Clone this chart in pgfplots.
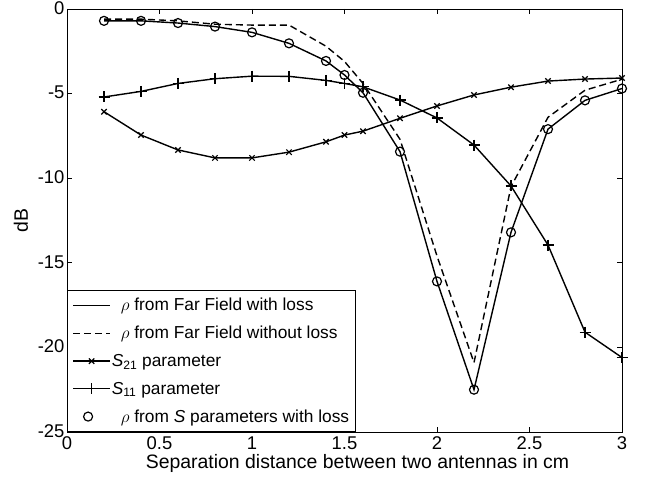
\documentclass[border=0pt]{standalone}
\usepackage{pgfplots}
\pgfplotsset{compat=1.18}
\usepackage{fontspec}
\setmainfont{Liberation Sans}
\newcommand{\legf}{\fontsize{17.4}{20}\selectfont}
\newcommand{\tickf}{\fontsize{18.5}{21}\selectfont}
\newcommand{\labf}{\fontsize{19.5}{22}\selectfont}
\pgfplotsset{
  longlegend/.style={legend image code/.code={\draw[mark repeat=2,mark phase=2,##1] plot coordinates {(0bp,0bp) (18.5bp,0bp) (37bp,0bp)};}},
  marklegend/.style={legend image code/.code={\draw[##1] plot coordinates {(15bp,0bp)};}},
}
\begin{document}
\begin{tikzpicture}
\begin{axis}[
  scale only axis, width=555bp, height=423bp,
  xmin=0, xmax=3, ymin=-25, ymax=0,
  xtick={0,0.5,1,1.5,2,2.5,3},
  ytick={-25,-20,-15,-10,-5,0},
  xticklabels={0,0.5,1,1.5,2,2.5,3},
  yticklabels={-25,-20,-15,-10,-5,0},
  tick align=inside,
  major tick length=5bp,
  tick style={black, line width=0.6bp},
  axis line style={black, line width=0.8bp},
  /pgf/number format/assume math mode=true,
  every tick label/.append style={font=\tickf},
  xticklabel style={font=\tickf, yshift=-1.5bp},
  yticklabel style={font=\tickf, xshift=1bp, yshift=1bp},
  xlabel={Separation distance between two antennas in cm},
  ylabel={dB},
  xlabel style={font=\labf, at={(axis description cs:0.5,-0.075)}, anchor=center, xshift=13bp},
  ylabel style={font=\labf, at={(axis description cs:-0.083,0.5)}, anchor=center},
  legend cell align=left,
  legend style={at={(0,0)}, anchor=south west, font=\legf,
    draw=black, line width=0.8bp, inner xsep=5bp, inner ysep=6bp, row sep=10bp,
    nodes={inner xsep=1bp}},
  longlegend,
  every axis plot/.append style={line width=1.4bp, black},
]
\addplot[solid, line width=1.4bp] coordinates {
(0.2,-0.7)(0.4,-0.7)(0.6,-0.83)(0.8,-1.04)(1.0,-1.38)(1.2,-2.03)(1.4,-3.07)(1.5,-3.9)(1.6,-4.95)(1.8,-8.43)(2.0,-16.1)(2.2,-22.5)(2.4,-13.2)(2.6,-7.1)(2.8,-5.4)(3.0,-4.7)};
\addlegendentry{\hspace{9bp}$\rho$ from Far Field with loss}
\addplot[dashed, dash pattern=on 7bp off 4bp, line width=1.4bp] coordinates {
(0.2,-0.6)(0.4,-0.6)(0.6,-0.7)(0.8,-0.9)(1.0,-0.95)(1.2,-0.95)(1.4,-2.2)(1.5,-3.1)(1.6,-4.4)(1.8,-7.7)(2.0,-14.6)(2.2,-20.9)(2.4,-10.5)(2.6,-6.4)(2.8,-4.8)(3.0,-4.15)};
\addlegendentry{\hspace{9bp}$\rho$ from Far Field without loss}
\addplot[solid, mark=x, mark size=3.8bp, mark options={solid, line width=1.2bp}] coordinates {
(0.2,-6.07)(0.4,-7.45)(0.6,-8.33)(0.8,-8.8)(1.0,-8.8)(1.2,-8.46)(1.4,-7.85)(1.5,-7.45)(1.6,-7.22)(1.8,-6.46)(2.0,-5.73)(2.2,-5.08)(2.4,-4.62)(2.6,-4.26)(2.8,-4.14)(3.0,-4.08)};
\addlegendentry{\textit{S}\textsubscript{21} parameter}
\addplot[solid, mark=+, mark size=5.5bp, mark options={solid, line width=1.2bp}] coordinates {
(0.2,-5.2)(0.4,-4.87)(0.6,-4.4)(0.8,-4.12)(1.0,-3.97)(1.2,-3.98)(1.4,-4.22)(1.5,-4.4)(1.6,-4.6)(1.8,-5.38)(2.0,-6.44)(2.2,-8.04)(2.4,-10.46)(2.6,-13.95)(2.8,-19.1)(3.0,-20.6)};
\addlegendentry{\textit{S}\textsubscript{11} parameter}
\addplot[only marks, mark=o, mark size=4.5bp, mark options={solid, line width=1.2bp}, marklegend] coordinates {
(0.2,-0.7)(0.4,-0.7)(0.6,-0.83)(0.8,-1.04)(1.0,-1.38)(1.2,-2.03)(1.4,-3.07)(1.5,-3.9)(1.6,-4.95)(1.8,-8.43)(2.0,-16.1)(2.2,-22.5)(2.4,-13.2)(2.6,-7.1)(2.8,-5.4)(3.0,-4.7)};
\addlegendentry{\hspace{9bp}$\rho$ from \textit{S} parameters with loss}
\end{axis}
\pgfresetboundingbox
\useasboundingbox ([shift={(-67bp,-47bp)}]current axis.south west) rectangle ([shift={(25bp,9bp)}]current axis.north east);
\end{tikzpicture}
\end{document}
